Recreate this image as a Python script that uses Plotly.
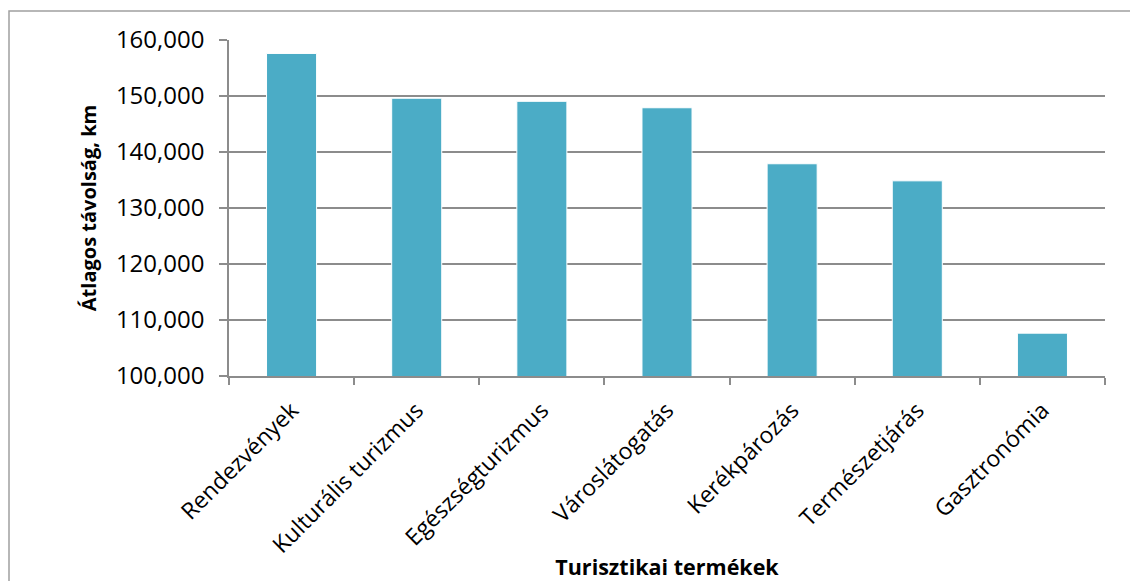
import plotly.graph_objects as go

categories = ["Rendezvények", "Kulturális turizmus", "Egészségturizmus", "Városlátogatás",
              "Kerékpározás", "Természetjárás", "Gasztronómia"]
values = [157600, 149600, 149050, 147900, 137900, 134850, 107650]
y_ticks = [100000, 110000, 120000, 130000, 140000, 150000, 160000]

L, R, T, B = 229, 25, 40, 205
W, H = 1130, 581
pw, ph = W - L - R, H - T - B

fig = go.Figure()
fig.add_trace(go.Bar(
    x=categories, y=values,
    marker=dict(color="#4BACC6", line=dict(color="white", width=1)),
    width=0.4,
))

grid = "#8c8c8c"
font = "Open Sans"
fig.update_layout(
    width=W, height=H,
    margin=dict(l=L, r=R, t=T, b=B),
    paper_bgcolor="white", plot_bgcolor="white",
    showlegend=False,
    font=dict(family=font, color="black"),
    xaxis=dict(
        automargin=False,
        showline=True, linecolor=grid, linewidth=1.5,
        ticks="outside", tickson="boundaries", ticklen=7, tickcolor=grid, tickwidth=1.5,
        tickangle=-45, tickfont=dict(size=23, family=font), ticklabelstandoff=10,
        title=dict(text="<b>Turisztikai termékek</b>", font=dict(size=21.5, family=font), standoff=4),
    ),
    yaxis=dict(
        automargin=False,
        range=[100000, 160000], tickvals=y_ticks, tickformat=",",
        showgrid=True, gridcolor=grid, gridwidth=1.5,
        showline=True, linecolor=grid, linewidth=1.5,
        ticks="outside", ticklen=8, tickcolor=grid, tickwidth=1.5,
        tickfont=dict(size=24, family=font), ticklabelstandoff=10,
        zeroline=False,
        title=dict(text="<b>Átlagos távolság, km</b>", font=dict(size=20, family=font), standoff=14),
    ),
    bargap=0.6,
)

fig.add_shape(type="rect", xref="paper", yref="paper",
              x0=(9 - L) / pw, x1=(W + 20 - L) / pw,
              y0=(T + ph - (H + 20)) / ph, y1=(T + ph - 11) / ph,
              line=dict(color="#a0a0a0", width=1.5), fillcolor="rgba(0,0,0,0)", layer="below")

fig.write_html("out.html")
